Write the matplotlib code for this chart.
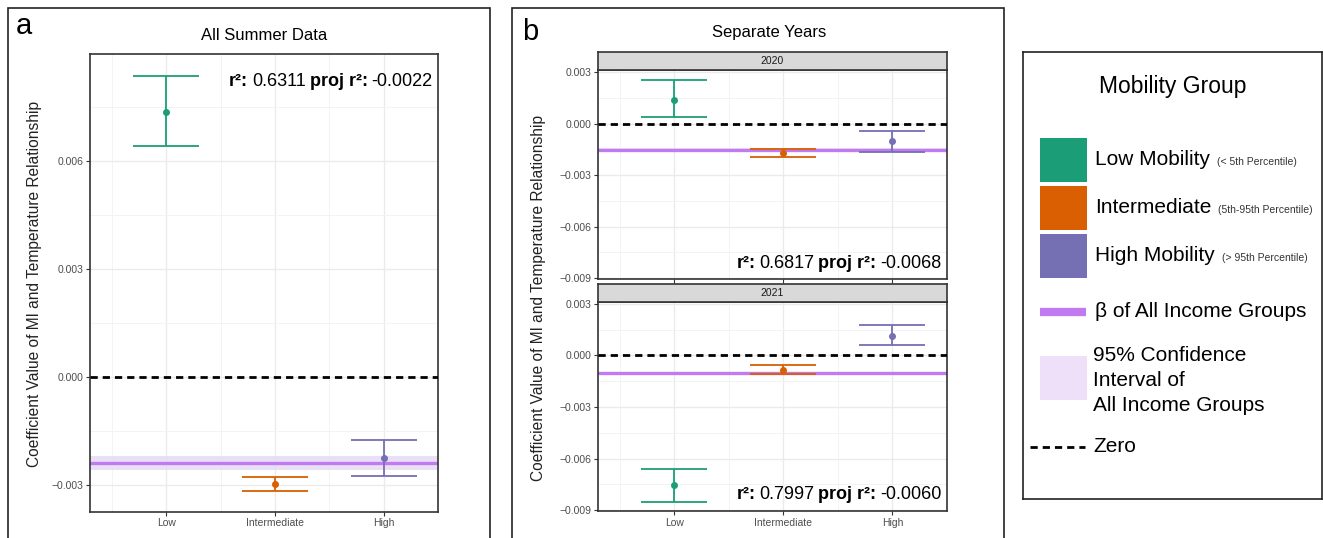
import matplotlib
matplotlib.use("Agg")
import matplotlib.pyplot as plt
import matplotlib.transforms as mtransforms
from matplotlib.patches import Rectangle
from matplotlib.lines import Line2D
from matplotlib.ticker import FixedLocator, FuncFormatter

plt.rcParams['font.family'] = ['Liberation Sans', 'DejaVu Sans']

# data
groups = ["Low", "Intermediate", "High"]
colors = ["#1b9e77", "#d95f02", "#7570b3"]

all_est = [0.00737, -0.00298, -0.00227]
all_lo = [0.00640, -0.00317, -0.00276]
all_hi = [0.00837, -0.00280, -0.00175]
all_beta = -0.00241
all_ci = (-0.00259, -0.00222)
all_r2 = ("0.6311", "-0.0022")

y2020_est = [0.00140, -0.00170, -0.00100]
y2020_lo = [0.00040, -0.00196, -0.00164]
y2020_hi = [0.00254, -0.00150, -0.00044]
y2020_beta = -0.00152
y2020_ci = (-0.00162, -0.00142)
y2020_r2 = ("0.6817", "-0.0068")

y2021_est = [-0.00754, -0.00082, 0.00116]
y2021_lo = [-0.00850, -0.00106, 0.00062]
y2021_hi = [-0.00658, -0.00058, 0.00178]
y2021_beta = -0.00104
y2021_ci = (-0.00114, -0.00094)
y2021_r2 = ("0.7997", "-0.0060")

legend_labels = ["Low Mobility", "Intermediate", "High Mobility"]
legend_notes = ["(< 5th Percentile)", "(5th-95th Percentile)", "(> 95th Percentile)"]

W, H = 1323, 538
fig = plt.figure(figsize=(W / 100, H / 100), dpi=100)
renderer = fig.canvas.get_renderer()


def fx(px):
    return px / W


def fy(py):
    return 1 - py / H


def box(l, t, r, b):
    return [fx(l), fy(b), fx(r) - fx(l), fy(t) - fy(b)]


fmt = FuncFormatter(lambda v, p: ("%.3f" % v).replace("-", "\u2212"))


def r2_label(ax, y, r2, size=13):
    # mixed bold / regular text, laid out right to left
    pieces = [("r\u00b2:", "bold"), (r2[0], "normal"),
              ("proj r\u00b2:", "bold"), (r2[1], "normal")]
    gap = size * 0.3
    offset = 0
    for txt, weight in reversed(pieces):
        tr = mtransforms.offset_copy(ax.transAxes, fig=fig, x=-offset, y=0, units="dots")
        t = ax.text(0.985, y, txt, transform=tr, ha="right", va="center",
                    fontsize=size, fontweight=weight, color="black", zorder=5)
        offset += t.get_window_extent(renderer).width + gap


def draw_panel(ax, est, lo, hi, beta, ci, r2, ylim, yticks, minor, r2_y):
    x = [1, 2, 3]
    ax.set_facecolor("white")
    ax.set_xlim(0.3, 3.5)
    ax.set_ylim(*ylim)
    ax.yaxis.set_major_locator(FixedLocator(yticks))
    ax.yaxis.set_minor_locator(FixedLocator(minor))
    ax.xaxis.set_major_locator(FixedLocator(x))
    ax.xaxis.set_minor_locator(FixedLocator([0.5, 1.5, 2.5]))
    ax.yaxis.set_major_formatter(fmt)
    ax.grid(which="major", color="#ebebeb", lw=1.0, zorder=0)
    ax.grid(which="minor", color="#f3f3f3", lw=0.7, zorder=0)
    ax.set_axisbelow(True)
    ax.axhspan(ci[0], ci[1], color="#e3daf3", alpha=0.8, lw=0, zorder=1)
    ax.axhline(beta, color="#c27af0", lw=2.4, zorder=2)
    ax.axhline(0, color="black", lw=2.0, ls=(0, (2.6, 1.8)), zorder=3)
    for i in range(3):
        ax.errorbar(x[i], est[i], yerr=[[est[i] - lo[i]], [hi[i] - est[i]]],
                    fmt="o", color=colors[i], ms=4, lw=1.3, capsize=24,
                    capthick=1.3, zorder=4)
    ax.tick_params(axis="both", which="major", length=3, color="#333333",
                   labelsize=7.5, labelcolor="#4d4d4d", width=0.8, pad=2)
    ax.tick_params(which="minor", length=0)
    for s in ax.spines.values():
        s.set_color("#333333")
        s.set_linewidth(1.2)
    ax.set_xticklabels(groups)
    r2_label(ax, r2_y, r2)


def strip(l, t, r, b, label):
    s = fig.add_axes(box(l, t, r, b))
    s.set_facecolor("#d9d9d9")
    s.set_xticks([])
    s.set_yticks([])
    for sp in s.spines.values():
        sp.set_color("#333333")
        sp.set_linewidth(1.2)
    s.text(0.5, 0.5, label, ha="center", va="center", fontsize=7.5,
           color="#1a1a1a", transform=s.transAxes)


# outer frames of panels a and b
fig.patches.append(Rectangle((fx(7.5), fy(560)), fx(490) - fx(7.5), fy(8) - fy(560),
                             transform=fig.transFigure, fill=False, ec="#222222", lw=1.2))
fig.patches.append(Rectangle((fx(511.5), fy(560)), fx(1004) - fx(511.5), fy(8) - fy(560),
                             transform=fig.transFigure, fill=False, ec="#222222", lw=1.2))

# panel a
ax_a = fig.add_axes(box(90, 54, 438, 511.5))
draw_panel(ax_a, all_est, all_lo, all_hi, all_beta, all_ci, all_r2,
           (-0.00375, 0.00897), [-0.003, 0.0, 0.003, 0.006],
           [-0.0015, 0.0015, 0.0045, 0.0075], (511.5 - 81.4) / 457.5)
fig.text(fx(16), fy(34), "a", fontsize=21, va="baseline", ha="left")
fig.text(fx(264), fy(36), "All Summer Data", fontsize=12, ha="center", va="center")
fig.text(fx(35), fy(284), "Coefficient Value of MI and Temperature Relationship",
         rotation=90, fontsize=11.2, ha="center", va="center", color="#222222")

# panel b
ylim_b = (-0.00902, 0.00311)
ticks_b = [-0.009, -0.006, -0.003, 0.0, 0.003]
minor_b = [-0.0075, -0.0045, -0.0015, 0.0015]
ax_b1 = fig.add_axes(box(598, 70.2, 947, 278.5))
draw_panel(ax_b1, y2020_est, y2020_lo, y2020_hi, y2020_beta, y2020_ci, y2020_r2,
           ylim_b, ticks_b, minor_b, 0.073)
ax_b1.tick_params(axis="x", labelbottom=False)
strip(598, 52.4, 947, 70.2, "2020")

ax_b2 = fig.add_axes(box(598, 302, 947, 510.6))
draw_panel(ax_b2, y2021_est, y2021_lo, y2021_hi, y2021_beta, y2021_ci, y2021_r2,
           ylim_b, ticks_b, minor_b, 0.078)
strip(598, 284.2, 947, 302, "2021")

fig.text(fx(522), fy(39.5), "b", fontsize=21, va="baseline", ha="left")
fig.text(fx(769), fy(33), "Separate Years", fontsize=12, ha="center", va="center")
fig.text(fx(539), fy(298), "Coefficient Value of MI and Temperature Relationship",
         rotation=90, fontsize=11.2, ha="center", va="center", color="#222222")

# legend panel
lg = fig.add_axes(box(1023, 51.5, 1322, 499))
lg.set_xlim(0, 299)
lg.set_ylim(447.5, 0)
lg.set_xticks([])
lg.set_yticks([])
for sp in lg.spines.values():
    sp.set_color("#222222")
    sp.set_linewidth(1.2)
lg.text(150, 35, "Mobility Group", fontsize=16.5, ha="center", va="center")
for i in range(3):
    top = 86 + i * 48
    lg.add_patch(Rectangle((17, top), 47, 44, color=colors[i], lw=0))
    t = lg.text(72, top + 22, legend_labels[i], fontsize=15, ha="left", va="center")
    lg.annotate(legend_notes[i], xy=(1, 0.5), xycoords=t, xytext=(5, -2),
                textcoords="offset points", fontsize=7.5, ha="left", va="center",
                color="#333333")
lg.add_line(Line2D([17, 63], [260, 260], color="#c27af0", lw=6, solid_capstyle="butt"))
lg.text(72, 260, "\u03b2 of All Income Groups", fontsize=15, ha="left", va="center")
lg.add_patch(Rectangle((17, 304), 47, 44, color="#efe0fa", lw=0))
lg.text(70, 329, "95% Confidence\nInterval of\nAll Income Groups", fontsize=15,
        ha="left", va="center", linespacing=1.42)
lg.add_line(Line2D([7, 62], [395, 395], color="black", lw=2, ls=(0, (2.6, 1.8))))
lg.text(70, 395, "Zero", fontsize=15, ha="left", va="center")

fig.savefig("out.png", dpi=100)
